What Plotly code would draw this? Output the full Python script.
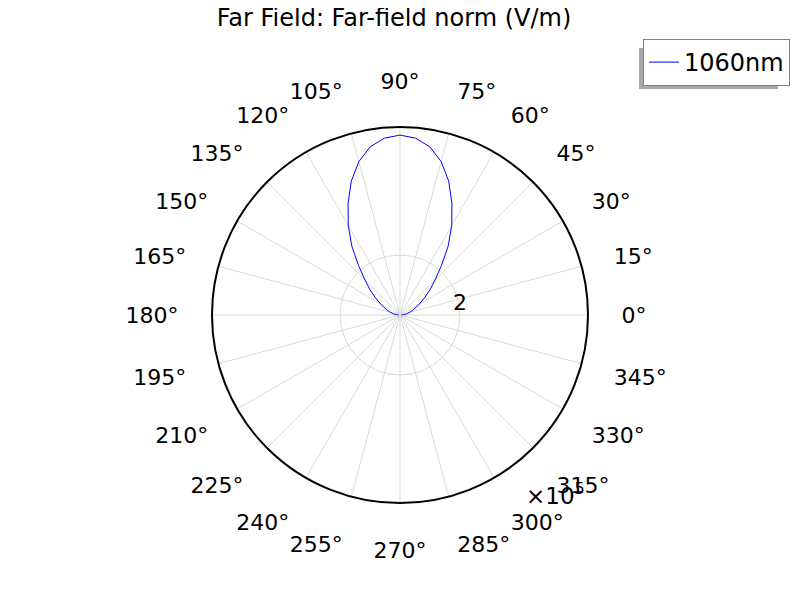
import plotly.graph_objects as go

# Far-field norm (x10^5 V/m) vs angle (deg)
angles_deg = [0, 5, 10, 15, 20, 25, 30, 35, 40, 45, 50, 55, 60, 65, 70, 75, 80, 85, 90,
              95, 100, 105, 110, 115, 120, 125, 130, 135, 140, 145, 150, 155, 160, 165, 170, 175, 180]
norm_e5 = [0.05, 0.12, 0.22, 0.32, 0.44, 0.58, 0.76, 1.00, 1.30, 1.65, 2.15, 2.80, 3.45, 4.10, 4.75, 5.30, 5.70, 5.92, 6.00,
           5.92, 5.70, 5.30, 4.75, 4.10, 3.45, 2.80, 2.15, 1.65, 1.30, 1.00, 0.76, 0.58, 0.44, 0.32, 0.22, 0.12, 0.05]
series_name = "1060nm"
angular_ticks = list(range(0, 360, 15))
angular_labels = [f"{a}°" for a in angular_ticks]
radial_ticks = [2]
radial_labels = ["2"]
radial_max = 6.27

font = "DejaVu Sans"
W, H = 800, 600
# page body adds an 8 px offset; positions below are in figure pixels
cx, cy, R = 392, 307, 188


def px(x):
    return x / W


def py(y):
    return 1 - y / H


fig = go.Figure()
fig.add_trace(go.Scatterpolar(
    r=norm_e5, theta=angles_deg, mode="lines", name=series_name,
    line=dict(color="#0000ff", width=1), showlegend=True,
))

fig.update_layout(
    width=W, height=H,
    margin=dict(l=0, r=0, t=0, b=0, pad=0, autoexpand=False),
    paper_bgcolor="white",
    font=dict(family=font, color="black", size=22),
    title=dict(text="Far Field: Far-field norm (V/m)", x=px(386), xanchor="center",
               xref="paper", y=py(10), yanchor="middle",
               font=dict(family=font, size=24, color="black")),
    polar=dict(
        domain=dict(x=[px(cx - R), px(cx + R)], y=[py(cy + R), py(cy - R)]),
        bgcolor="white",
        angularaxis=dict(
            rotation=0, direction="counterclockwise",
            tickmode="array", tickvals=angular_ticks, ticktext=angular_labels,
            showline=True, linecolor="black", linewidth=2,
            showgrid=True, gridcolor="#d9d9d9", gridwidth=1,
            ticks="outside", ticklen=28, tickcolor="rgba(0,0,0,0)",
            tickfont=dict(family=font, size=22, color="black"),
        ),
        radialaxis=dict(
            range=[0, radial_max], angle=0, side="counterclockwise",
            tickmode="array", tickvals=radial_ticks, ticktext=radial_labels,
            showline=False, showgrid=True, gridcolor="#d9d9d9", gridwidth=1,
            ticks="", tickfont=dict(family=font, size=22, color="black"),
        ),
    ),
    legend=dict(
        x=px(782), xanchor="right", y=py(31), yanchor="top",
        bgcolor="white", bordercolor="#808080", borderwidth=1,
        font=dict(family=font, size=24, color="black"),
        itemwidth=30, tracegroupgap=0,
    ),
    shapes=[dict(type="rect", xref="paper", yref="paper",
                 x0=px(631), x1=px(770), y0=py(81), y1=py(40),
                 fillcolor="#a8a8a8", line=dict(width=0), layer="above")],
    annotations=[dict(text="×10<sup>5</sup>", xref="paper", yref="paper",
                      x=px(516), y=py(486), xanchor="left", yanchor="middle",
                      showarrow=False, font=dict(family=font, size=23, color="black"))],
)

fig.write_html("out.html")
